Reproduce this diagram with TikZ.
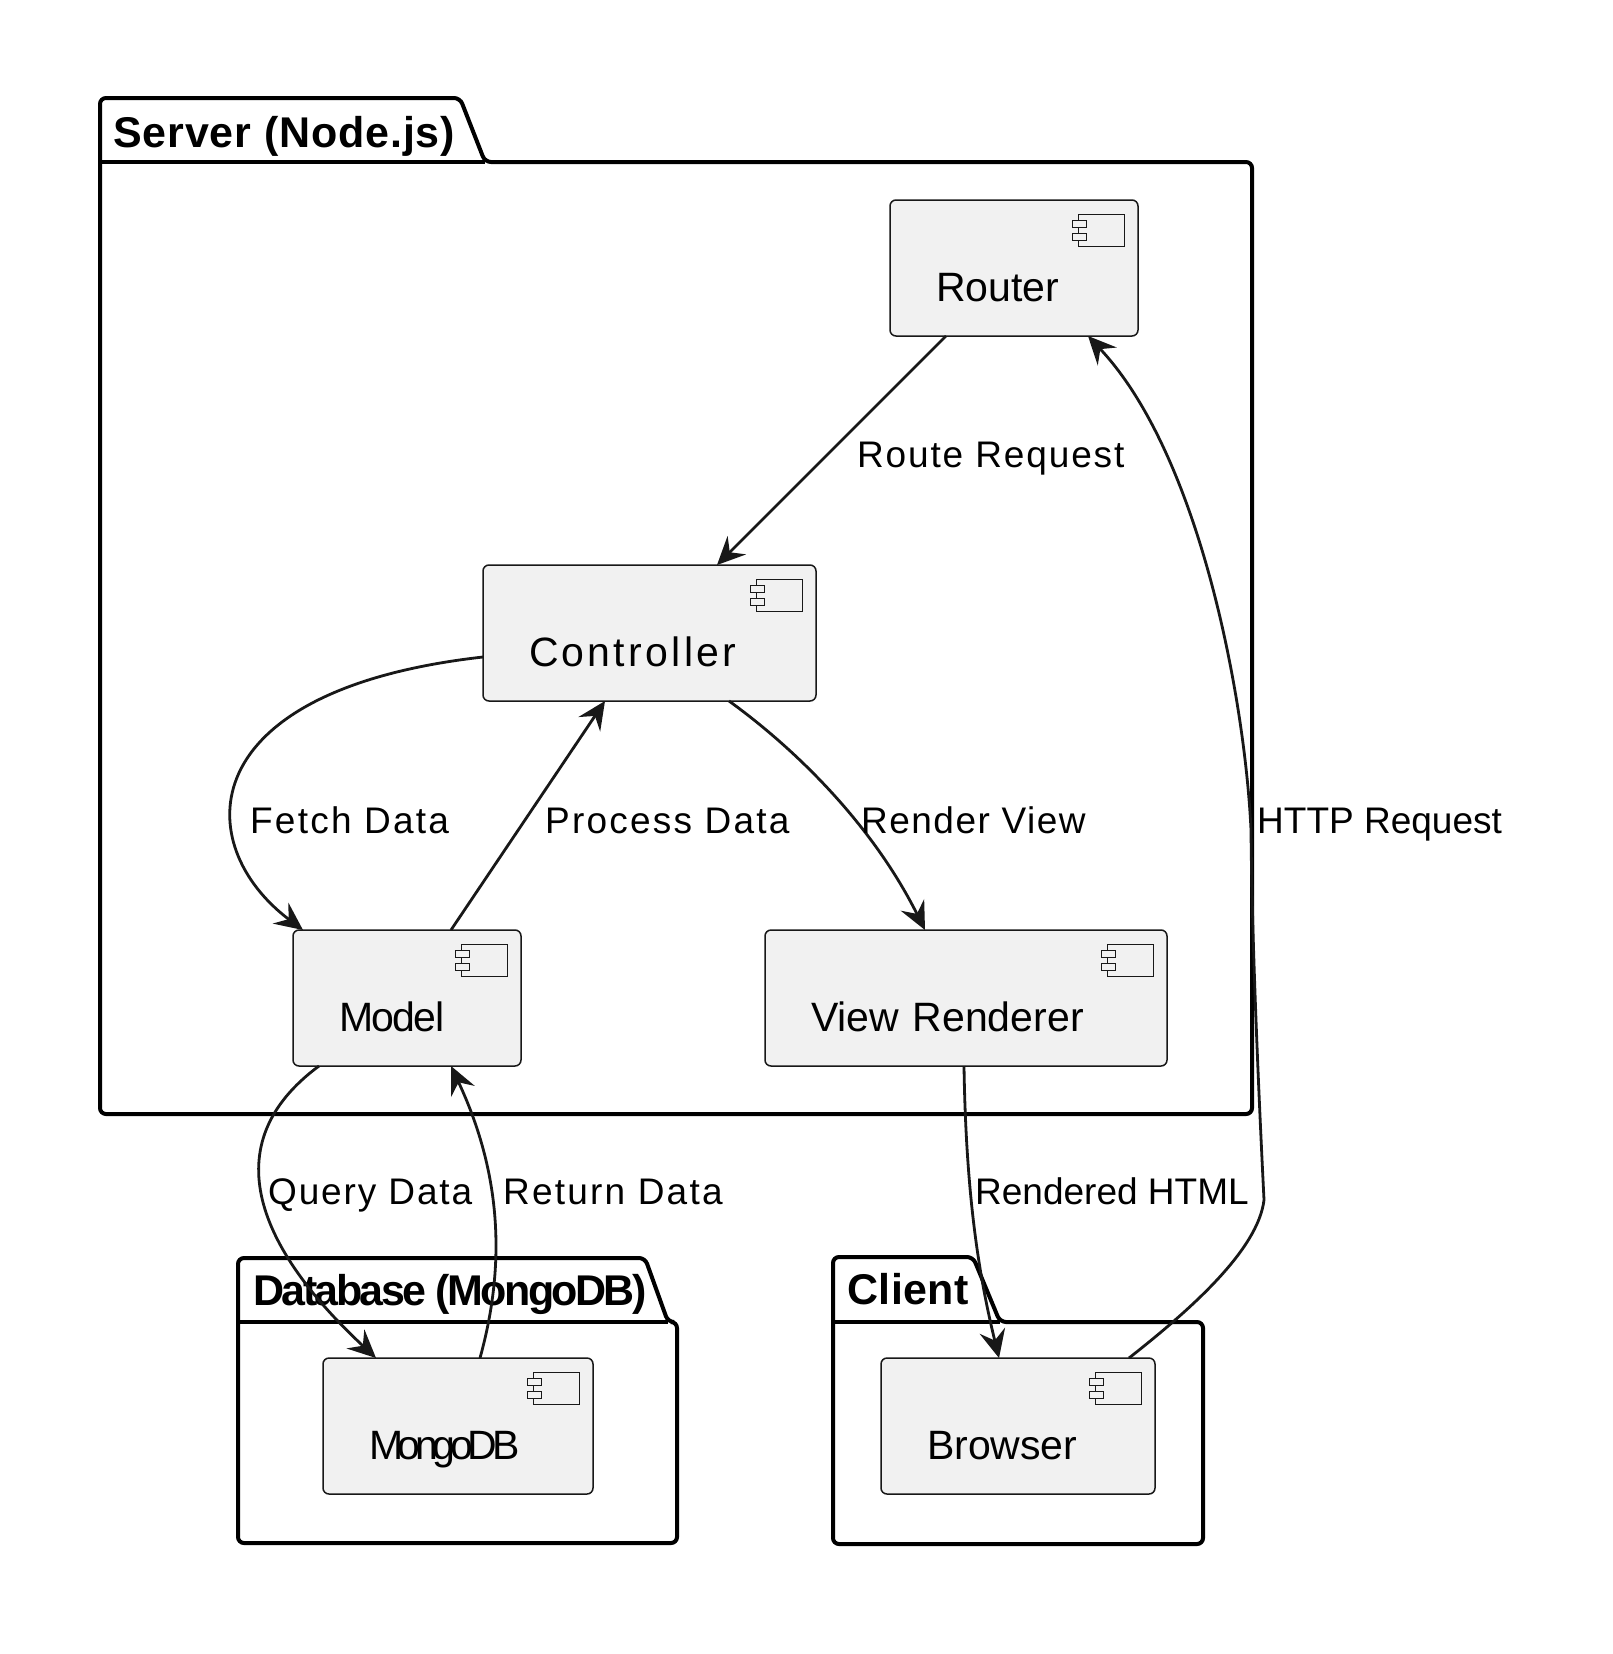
\documentclass[tikz,border=0pt]{standalone}
\usepackage{fontspec}
\setmainfont{Liberation Sans}
\usepackage{xcolor}
\usetikzlibrary{arrows.meta}

\definecolor{compfill}{HTML}{F1F1F1}
\definecolor{edgecol}{HTML}{181818}

\begin{document}
\begin{tikzpicture}[x=1pt,y=-1pt]

\edef\labelsize{37}
\tikzstyle{pkg}=[draw=black,line width=4pt,rounded corners=6pt]
\tikzstyle{pkgtitle}=[anchor=base west,inner sep=0pt,font=\fontsize{43}{52}\selectfont\bfseries]
\tikzstyle{comp}=[draw=edgecol,fill=compfill,line width=1.5pt,rounded corners=6pt,
    anchor=north west,outer sep=0pt,inner xsep=46pt,inner ysep=0pt,
    text height=101pt,text depth=35pt,align=left,font=\fontsize{41}{49}\selectfont,
    path picture={
      \draw[edgecol,line width=1pt,sharp corners]
        ([xshift=-60pt,yshift=-14pt]path picture bounding box.north east) rectangle ++(46pt,-32pt);
      \draw[edgecol,fill=compfill,line width=1pt,sharp corners]
        ([xshift=-66pt,yshift=-20pt]path picture bounding box.north east) rectangle ++(14pt,-7pt);
      \draw[edgecol,fill=compfill,line width=1pt,sharp corners]
        ([xshift=-66pt,yshift=-33pt]path picture bounding box.north east) rectangle ++(14pt,-7pt);
    }]
\tikzstyle{conn}=[draw=edgecol,line width=2.8pt,-{Stealth[length=28pt,width=26pt,inset=10pt]}]
\tikzstyle{lbl}=[anchor=base west,inner sep=0pt,font=\fontsize{\labelsize}{44}\selectfont]

\useasboundingbox[fill=white] (0,0) rectangle (1612,1654);

%% packages
\draw[pkg] (100,162) -- (100,98) -- (460,98) -- (485,162) -- (1252,162) -- (1252,1114) -- (100,1114) -- cycle;
\draw[pkg] (100,162) -- (485,162);
\node[pkgtitle] (srvtitle) at (113,147) {\addfontfeature{LetterSpace=2}Server (Node.js)};

\draw[pkg] (238,1322) -- (238,1258) -- (645,1258) -- (668,1322) -- (677,1322) -- (677,1543) -- (238,1543) -- cycle;
\draw[pkg] (238,1322) -- (668,1322);
\node[pkgtitle] (dbtitle) at (253,1305) {\addfontfeature{LetterSpace=-6}Database (MongoDB)};

\draw[pkg] (833,1322) -- (833,1257) -- (973,1257) -- (1000,1322) -- (1203,1322) -- (1203,1544) -- (833,1544) -- cycle;
\draw[pkg] (833,1322) -- (1000,1322);
\node[pkgtitle] (clititle) at (847,1304) {\addfontfeature{LetterSpace=1}Client};

%% components
\node[comp,text width=156pt] (router) at (890,200) {Router};
\node[comp,text width=241pt] (ctrl) at (483,565) {\addfontfeature{LetterSpace=8}Controller};
\node[comp,text width=136pt] (model) at (293,930) {\addfontfeature{LetterSpace=-4}Model};
\node[comp,text width=310pt] (view) at (765,930) {View Renderer};
\node[comp,text width=178pt] (mongo) at (323,1358) {\addfontfeature{LetterSpace=-13}MongoDB};
\node[comp,text width=182pt] (browser) at (881,1358) {Browser};

%% connectors
\draw[conn] ([xshift=56pt]router.south west) -- ([xshift=234pt]ctrl.north west);
\draw[conn] ([yshift=-24pt]ctrl.west) .. controls (190,690) and (190,845) .. ([xshift=10pt]model.north west);
\draw[conn] ([xshift=158pt]model.north west) -- ([xshift=122pt]ctrl.south west);
\draw[conn] ([xshift=246pt]ctrl.south west) .. controls (790,745) and (870,820) .. ([xshift=160pt]view.north west);
\draw[conn] ([xshift=26pt]model.south west) .. controls (212,1145) and (260,1250) .. ([xshift=53pt]mongo.north west);
\draw[conn] ([xshift=157pt]mongo.north west) .. controls (510,1250) and (495,1160) .. ([xshift=158pt]model.south west);
\draw[conn] ([xshift=199pt]view.south west) .. controls (966,1200) and (980,1280) .. ([xshift=118pt]browser.north west);
\draw[conn] ([xshift=-26pt]browser.north east) .. controls (1190,1310) and (1258,1250) .. (1264,1200)
    .. controls (1260,1120) and (1252,950) .. (1251,830)
    .. controls (1245,700) and (1200,455) .. ([xshift=-50pt]router.south east);

%% labels
\node[lbl] (routelbl) at (857,467) {\addfontfeature{LetterSpace=5}Route Request};
\node[lbl] (fetchlbl) at (250,833) {\addfontfeature{LetterSpace=6}Fetch Data};
\node[lbl] (proclbl) at (545,833) {\addfontfeature{LetterSpace=6}Process Data};
\node[lbl] (renderlbl) at (861,833) {\addfontfeature{LetterSpace=4}Render View};
\node[lbl] (httplbl) at (1257,833) {HTTP Request};
\node[lbl] (querylbl) at (268,1204) {\addfontfeature{LetterSpace=5}Query Data};
\node[lbl] (returnlbl) at (503,1204) {\addfontfeature{LetterSpace=6}Return Data};
\node[lbl] (htmllbl) at (975,1204) {Rendered HTML};
\end{tikzpicture}
\end{document}
